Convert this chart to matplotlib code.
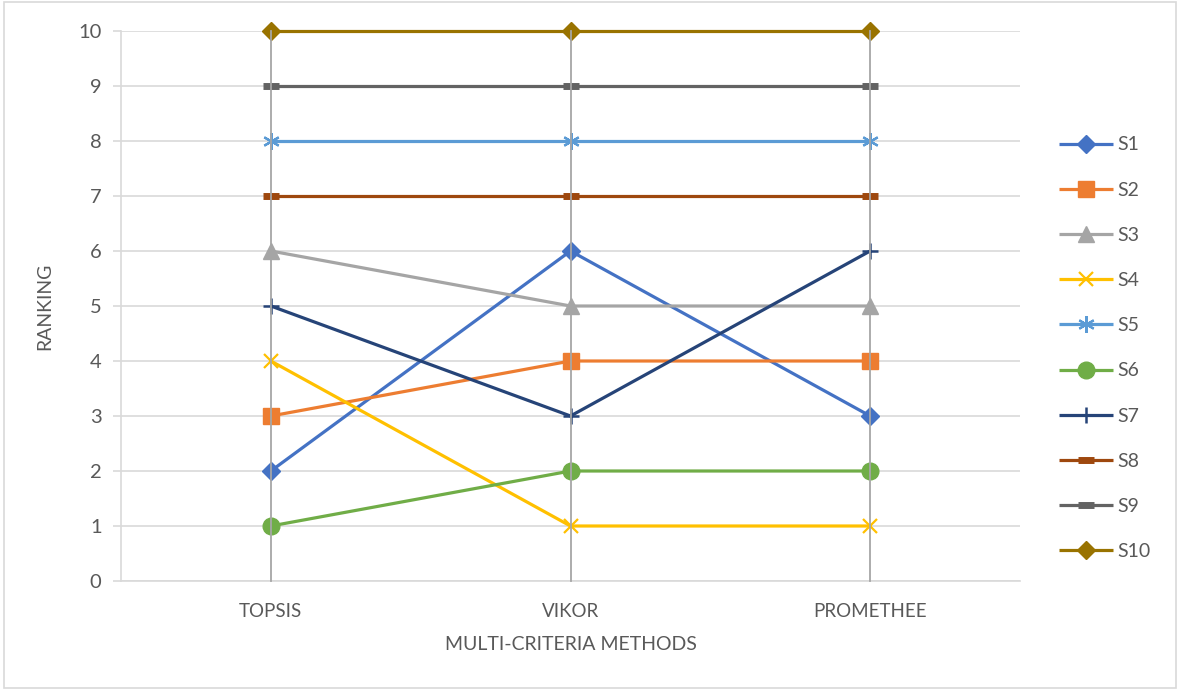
import numpy as np
import matplotlib.pyplot as plt
from matplotlib.patches import Rectangle

plt.rcParams['font.family'] = ['Lato', 'DejaVu Sans']

methods = ['TOPSIS', 'VIKOR', 'PROMETHEE']
series = ['S1', 'S2', 'S3', 'S4', 'S5', 'S6', 'S7', 'S8', 'S9', 'S10']
s1 = [2, 6, 3]
s2 = [3, 4, 4]
s3 = [6, 5, 5]
s4 = [4, 1, 1]
s5 = [8, 8, 8]
s6 = [1, 2, 2]
s7 = [5, 3, 6]
s8 = [7, 7, 7]
s9 = [9, 9, 9]
s10 = [10, 10, 10]
values = [s1, s2, s3, s4, s5, s6, s7, s8, s9, s10]

colors = ['#4472C4', '#ED7D31', '#A5A5A5', '#FFC000', '#5B9BD5',
          '#70AD47', '#264478', '#9E480E', '#636363', '#997300']
# marker, size, edge width
styles = [('D', 9, 1), ('s', 11, 1), ('^', 11, 1), ('x', 10, 1.6),
          ((6, 2, 0), 12, 1.6), ('o', 12, 1), ('+', 11, 1.8),
          ('_', 11, 5), ('_', 11, 5), ('D', 9, 1)]

txt = '#595959'
grid = '#D9D9D9'

fig = plt.figure(figsize=(11.8, 6.9), dpi=100)
ax = fig.add_axes([121 / 1180, 1 - 581 / 690, 899 / 1180, 550 / 690])

x = np.arange(len(methods))
for name, v, c, (m, ms, mew) in zip(series, values, colors, styles):
    ax.plot(x, v, color=c, lw=2.3, marker=m, markersize=ms, mew=mew,
            mfc=c, mec=c, label=name, clip_on=False, zorder=3,
            solid_capstyle='butt')

# drop lines from the top series down to the axis
for xi in x:
    top = max(v[xi] for v in values)
    ax.plot([xi, xi], [0, top], color='#A6A6A6', lw=1.3, zorder=5,
            clip_on=False)

ax.set_xlim(-0.5, 2.5)
ax.set_ylim(0, 10)
ax.set_yticks(range(0, 11))
ax.set_xticks(x)
ax.set_xticklabels(methods)
ax.yaxis.grid(True, color=grid, lw=1.2, zorder=0)
ax.set_axisbelow(True)
for s in ['top', 'right']:
    ax.spines[s].set_visible(False)
for s in ['left', 'bottom']:
    ax.spines[s].set_color(grid)
    ax.spines[s].set_linewidth(1.2)
ax.tick_params(axis='y', colors=grid, labelcolor=txt, labelsize=14.5,
               length=6, width=1.2, pad=8)
ax.tick_params(axis='x', length=0, labelcolor=txt, labelsize=13.5, pad=16)

ax.set_ylabel('RANKING', color=txt, fontsize=14, labelpad=18)
ax.set_xlabel('MULTI-CRITERIA METHODS', color=txt, fontsize=14, labelpad=11)

fig.legend(loc='upper left', bbox_to_anchor=(1041 / 1180, 1 - 119 / 690),
           frameon=False, fontsize=14, handlelength=2.8, labelspacing=1.45,
           handletextpad=0.25, labelcolor=txt)

fig.patches.append(Rectangle((4 / 1180, 2 / 690), 1172 / 1180, 686 / 690,
                             transform=fig.transFigure, fill=False,
                             edgecolor=grid, lw=1.2))

fig.savefig('out.png', dpi=100)
